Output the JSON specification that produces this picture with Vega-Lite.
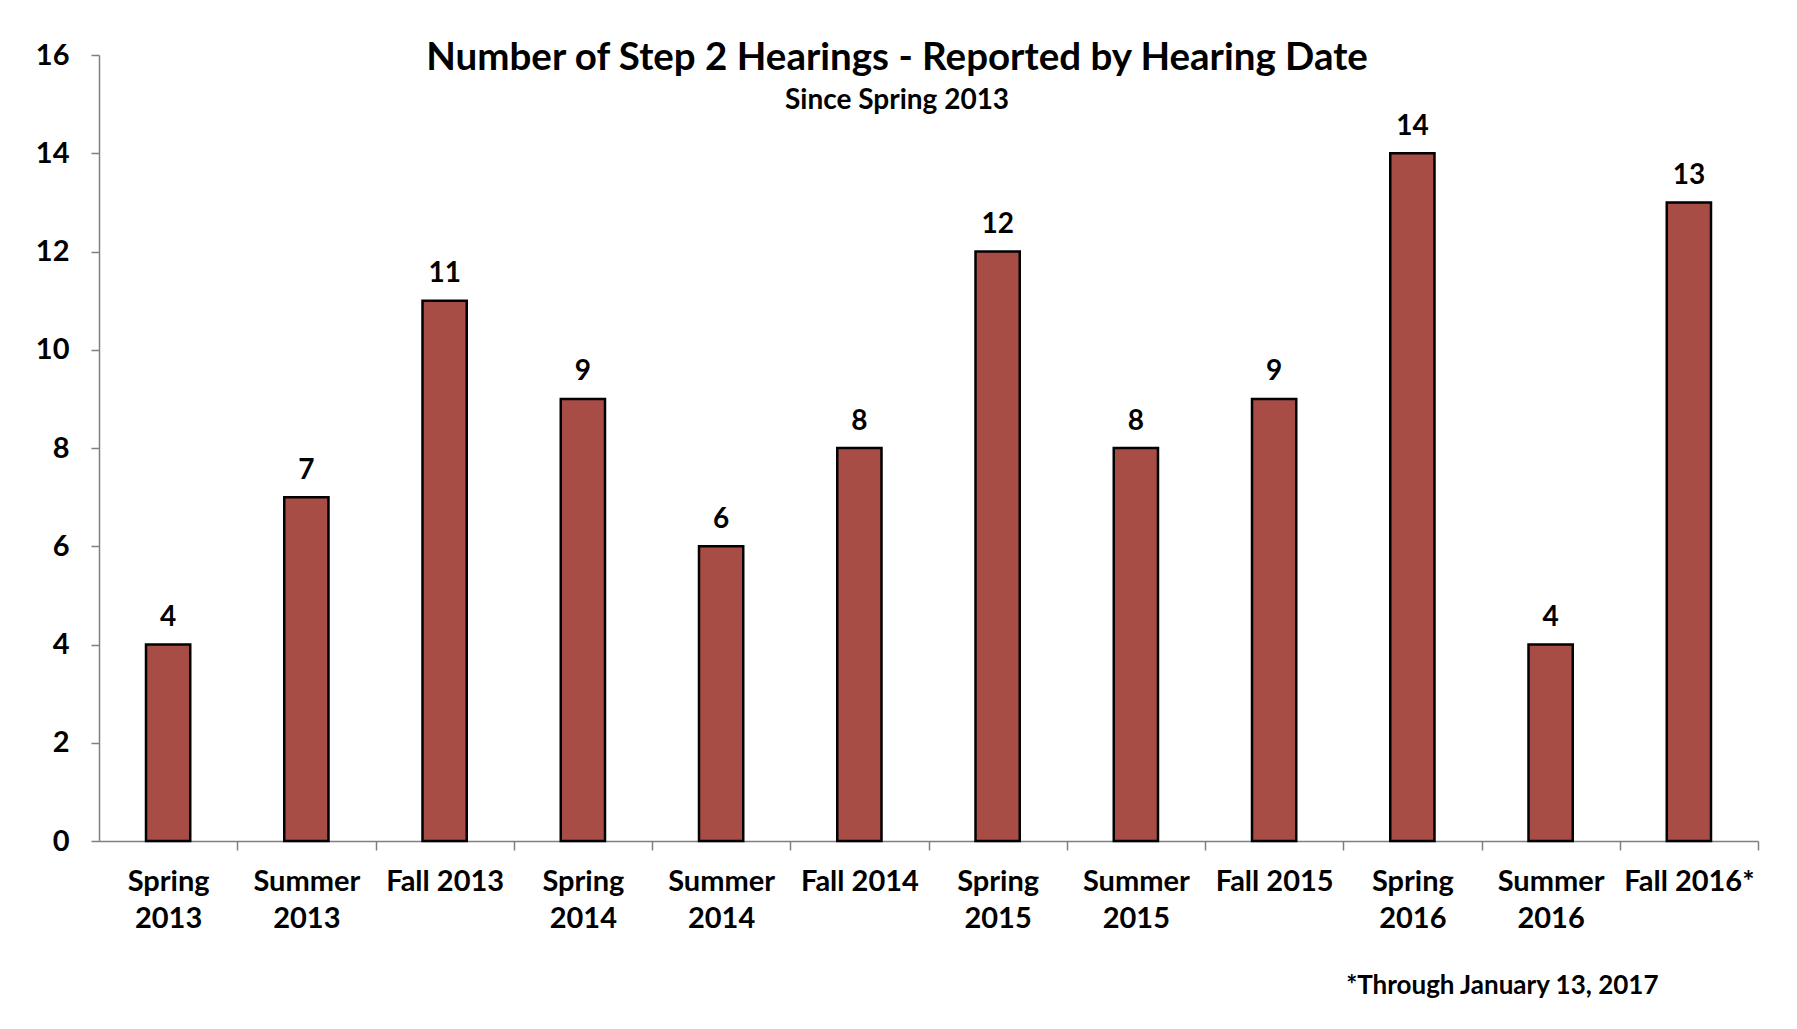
{
  "$schema": "https://vega.github.io/schema/vega-lite/v6.json",
  "width": 1659,
  "height": 786,
  "padding": {"left": 35, "top": 38, "right": 40, "bottom": 20},
  "background": "white",
  "title": {
    "text": "Number of Step 2 Hearings - Reported by Hearing Date",
    "subtitle": "Since Spring 2013",
    "anchor": "middle",
    "frame": "bounds",
    "font": "Lato",
    "fontSize": 38.5,
    "fontWeight": "bold",
    "color": "black",
    "subtitleFont": "Lato",
    "subtitleFontSize": 28,
    "subtitleFontWeight": "bold",
    "subtitleColor": "black",
    "subtitlePadding": 9.2,
    "offset": -75.3
  },
  "data": {
    "values": [
      {"season": "Spring 2013", "hearings": 4},
      {"season": "Summer 2013", "hearings": 7},
      {"season": "Fall 2013", "hearings": 11},
      {"season": "Spring 2014", "hearings": 9},
      {"season": "Summer 2014", "hearings": 6},
      {"season": "Fall 2014", "hearings": 8},
      {"season": "Spring 2015", "hearings": 12},
      {"season": "Summer 2015", "hearings": 8},
      {"season": "Fall 2015", "hearings": 9},
      {"season": "Spring 2016", "hearings": 14},
      {"season": "Summer 2016", "hearings": 4},
      {"season": "Fall 2016*", "hearings": 13}
    ]
  },
  "encoding": {
    "x": {
      "field": "season",
      "type": "nominal",
      "sort": null,
      "scale": {"paddingInner": 0.68, "paddingOuter": 0.34},
      "axis": {
        "title": "*Through January 13, 2017",
        "titleFont": "Lato",
        "titleFontSize": 26,
        "titleFontWeight": "bold",
        "titleColor": "black",
        "titleAlign": "right",
        "titleBaseline": "alphabetic",
        "titleX": 1559,
        "titleY": 152,
        "labelAngle": 0,
        "labelExpr": "indexof(datum.value, 'Fall') == 0 ? datum.value : split(datum.value, ' ')",
        "labelFont": "Lato",
        "labelFontSize": 29,
        "labelFontWeight": "bold",
        "labelColor": "black",
        "labelLineHeight": 37,
        "labelPadding": 17,
        "tickOffset": 69.125,
        "labelOffset": -69.125,
        "tickSize": 9,
        "tickColor": "#7f7f7f",
        "tickWidth": 1.5,
        "domainColor": "#7f7f7f",
        "domainWidth": 1.5
      }
    },
    "y": {
      "field": "hearings",
      "type": "quantitative",
      "scale": {"domain": [0, 16], "nice": false},
      "axis": {
        "title": null,
        "values": [0, 2, 4, 6, 8, 10, 12, 14, 16],
        "grid": false,
        "labelFont": "Lato",
        "labelFontSize": 29,
        "labelFontWeight": "bold",
        "labelColor": "black",
        "labelPadding": 22,
        "tickSize": 8,
        "tickColor": "#7f7f7f",
        "tickWidth": 1.5,
        "domainColor": "#7f7f7f",
        "domainWidth": 1.5
      }
    }
  },
  "layer": [
    {
      "mark": {"type": "bar", "color": "#A84C46", "stroke": "black", "strokeWidth": 2.5}
    },
    {
      "mark": {"type": "text", "baseline": "bottom", "dy": -12.5, "font": "Lato", "fontSize": 28, "fontWeight": "bold", "color": "black"},
      "encoding": {"text": {"field": "hearings", "type": "quantitative"}}
    }
  ],
  "config": {"view": {"stroke": null}}
}
